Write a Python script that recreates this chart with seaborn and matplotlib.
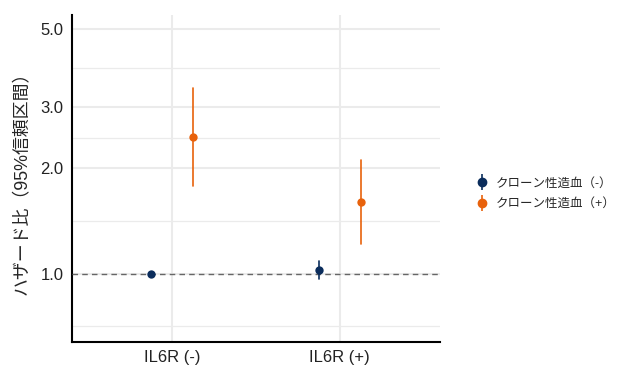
import numpy as np
import pandas as pd
import matplotlib
matplotlib.use("Agg")
import matplotlib.pyplot as plt
from matplotlib.lines import Line2D
from matplotlib.legend_handler import HandlerTuple
from matplotlib.ticker import FixedLocator, FixedFormatter, NullFormatter
import seaborn as sns

# data (hazard ratio, 95% CI)
groups = ["IL6R (-)", "IL6R (+)"]
chip = ["クローン性造血（-）", "クローン性造血（+）"]
hr_neg = [1.00, 1.025]      # CHIP (-)
lo_neg = [1.00, 0.963]
hi_neg = [1.00, 1.09]
hr_pos = [2.46, 1.60]       # CHIP (+)
lo_pos = [1.78, 1.217]
hi_pos = [3.40, 2.11]
y_breaks = [1.0, 2.0, 3.0, 5.0]

colors = ["#0B2D5C", "#E8620C"]

rows = []
for h, est, lo, hi in [(chip[0], hr_neg, lo_neg, hi_neg), (chip[1], hr_pos, lo_pos, hi_pos)]:
    for g, e, l, u in zip(groups, est, lo, hi):
        for v in (l, e, u):
            rows.append({"group": g, "chip": h, "hr": v})
df = pd.DataFrame(rows)

sns.set_style("white")
plt.rcParams["font.family"] = ["Liberation Sans", "Noto Sans CJK JP", "DejaVu Sans"]

fig = plt.figure(figsize=(6.2, 3.8), dpi=100)
ax = fig.add_axes([0.116, 0.1, 0.594, 0.8605])
ax.set_yscale("log")

# median of (lo, est, hi) = est, 100% interval = lo..hi
sns.pointplot(data=df, x="group", y="hr", hue="chip", order=groups, hue_order=chip,
              palette=colors, estimator="median", errorbar=("pi", 100),
              dodge=0.25, linestyle="none", markersize=6, markeredgewidth=0,
              err_kws={"linewidth": 1.2}, ax=ax, legend=False, zorder=5)

ax.axhline(1.0, color="#666666", lw=1, ls=(0, (4, 3)), zorder=3)

ax.set_ylim(0.638, 5.49)
ax.set_xlim(-0.6, 1.6)
ax.yaxis.set_major_locator(FixedLocator(y_breaks))
ax.yaxis.set_major_formatter(FixedFormatter([f"{b:.1f}" for b in y_breaks]))
ext = [0.5] + y_breaks
minor = [np.sqrt(a * b) for a, b in zip(ext[:-1], ext[1:])]
ax.yaxis.set_minor_locator(FixedLocator(minor))
ax.yaxis.set_minor_formatter(NullFormatter())

ax.grid(True, which="major", color="#EBEBEB", lw=1.5, zorder=0)
ax.grid(True, which="minor", axis="y", color="#EBEBEB", lw=0.9, zorder=0)
ax.set_axisbelow(True)
ax.tick_params(which="both", length=0, labelsize=12, colors="#222222", pad=6)

for s in ["top", "right"]:
    ax.spines[s].set_visible(False)
for s in ["left", "bottom"]:
    ax.spines[s].set_color("black")
    ax.spines[s].set_linewidth(1.5)

ax.set_xlabel("")
ax.set_ylabel("ハザード比（95%信頼区間）", fontsize=12.9, labelpad=7)

handles = [(Line2D([], [], color=c, marker="|", markersize=11, markeredgewidth=1.2, linestyle="none"),
            Line2D([], [], color=c, marker="o", markersize=6, linestyle="none"))
           for c in colors]
fig.legend(handles, chip, handler_map={tuple: HandlerTuple(ndivide=1, pad=0)},
           loc="center left", bbox_to_anchor=(0.75, 0.49), frameon=False,
           fontsize=9, handlelength=0.9, handletextpad=0.7, labelspacing=0.7)

fig.savefig("out.png", dpi=100)
